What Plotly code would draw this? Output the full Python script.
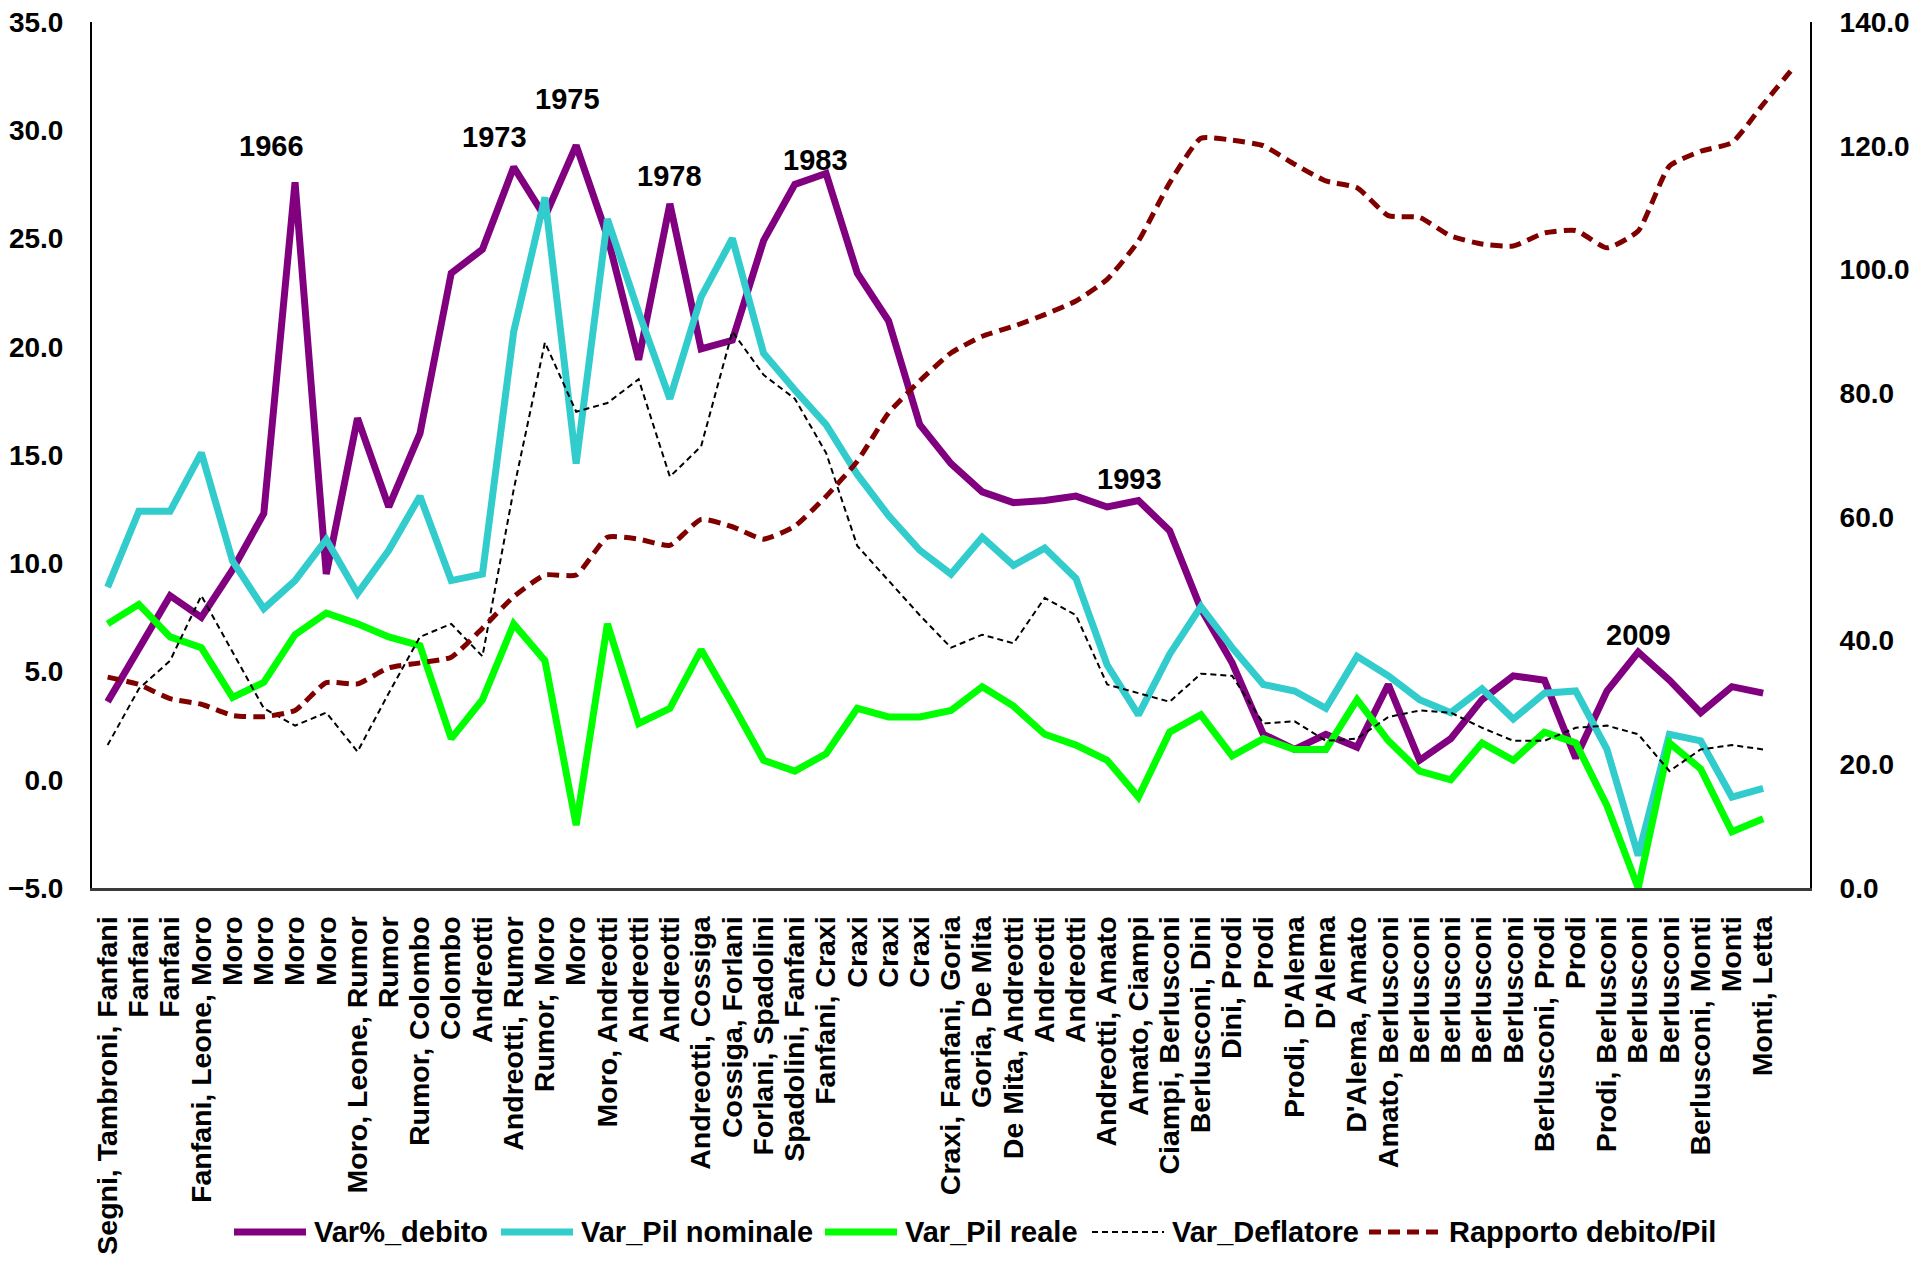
import plotly.graph_objects as go

# Governments in office for each year, 1960-2013 (the last slot, 2014, has no label)
governi = [
    "Segni, Tambroni, Fanfani", "Fanfani", "Fanfani", "Fanfani, Leone, Moro", "Moro", "Moro",
    "Moro", "Moro", "Moro, Leone, Rumor", "Rumor", "Rumor, Colombo", "Colombo", "Andreotti",
    "Andreotti, Rumor", "Rumor, Moro", "Moro", "Moro, Andreotti", "Andreotti", "Andreotti",
    "Andreotti, Cossiga", "Cossiga, Forlani", "Forlani, Spadolini", "Spadolini, Fanfani",
    "Fanfani, Craxi", "Craxi", "Craxi", "Craxi", "Craxi, Fanfani, Goria", "Goria, De Mita",
    "De Mita, Andreotti", "Andreotti", "Andreotti", "Andreotti, Amato", "Amato, Ciampi",
    "Ciampi, Berlusconi", "Berlusconi, Dini", "Dini, Prodi", "Prodi", "Prodi, D'Alema",
    "D'Alema", "D'Alema, Amato", "Amato, Berlusconi", "Berlusconi", "Berlusconi", "Berlusconi",
    "Berlusconi", "Berlusconi, Prodi", "Prodi", "Prodi, Berlusconi", "Berlusconi", "Berlusconi",
    "Berlusconi, Monti", "Monti", "Monti, Letta", "",
]

var_debito = [
    3.6, 6.1, 8.5, 7.5, 9.7, 12.3, 27.6, 9.5, 16.7, 12.6, 16.0, 23.4, 24.5, 28.3, 26.0, 29.3,
    25.1, 19.4, 26.6, 19.9, 20.3, 24.9, 27.5, 28.0, 23.4, 21.2, 16.4, 14.6, 13.3, 12.8, 12.9,
    13.1, 12.6, 12.9, 11.5, 7.9, 5.4, 2.1, 1.4, 2.1, 1.5, 4.4, 0.9, 1.9, 3.7, 4.8, 4.6, 1.0,
    4.1, 5.9, 4.6, 3.1, 4.3, 4.0,
]
var_pil_nominale = [
    8.9, 12.4, 12.4, 15.1, 10.1, 7.9, 9.2, 11.1, 8.6, 10.6, 13.1, 9.2, 9.5, 20.7, 26.9, 14.6,
    25.9, 21.6, 17.6, 22.3, 25.0, 19.7, 18.0, 16.4, 14.1, 12.2, 10.6, 9.5, 11.2, 9.9, 10.7,
    9.3, 5.3, 3.0, 5.8, 8.0, 6.1, 4.4, 4.1, 3.3, 5.7, 4.8, 3.7, 3.1, 4.2, 2.8, 4.0, 4.1,
    1.4, -3.5, 2.1, 1.8, -0.8, -0.4,
]
var_pil_reale = [
    7.2, 8.1, 6.6, 6.1, 3.8, 4.5, 6.7, 7.7, 7.2, 6.6, 6.2, 1.9, 3.7, 7.2, 5.5, -2.1,
    7.2, 2.6, 3.3, 6.0, 3.5, 0.9, 0.4, 1.2, 3.3, 2.9, 2.9, 3.2, 4.3, 3.4, 2.1,
    1.6, 0.9, -0.8, 2.2, 3.0, 1.1, 1.9, 1.4, 1.4, 3.7, 1.8, 0.4, 0.0, 1.7, 0.9, 2.2, 1.7,
    -1.2, -5.0, 1.7, 0.5, -2.4, -1.8,
]
var_deflatore = [
    1.6, 4.2, 5.5, 8.5, 5.9, 3.3, 2.5, 3.1, 1.3, 4.0, 6.6, 7.2, 5.7, 13.4, 20.2, 17.0,
    17.4, 18.5, 14.0, 15.4, 20.7, 18.7, 17.6, 15.1, 10.8, 9.2, 7.6, 6.1, 6.7, 6.3, 8.4,
    7.6, 4.4, 4.0, 3.6, 4.9, 4.8, 2.6, 2.7, 1.8, 1.9, 2.9, 3.2, 3.1, 2.4, 1.8, 1.8, 2.4,
    2.5, 2.1, 0.4, 1.4, 1.6, 1.4,
]
rapporto_debito_pil = [
    34.1, 32.9, 30.6, 29.7, 27.9, 27.7, 28.7, 33.2, 33.0, 35.6, 36.4, 37.3, 42.0, 47.1, 50.6,
    50.6, 56.7, 56.4, 55.4, 59.6, 58.4, 56.4, 58.5, 63.3, 69.0, 76.8, 82.0, 86.5, 89.2, 90.8,
    92.7, 94.9, 98.4, 104.6, 114.0, 121.2, 120.9, 120.0, 117.0, 114.3, 113.2, 108.7, 108.4,
    105.4, 104.1, 103.8, 105.9, 106.3, 103.5, 106.2, 116.7, 119.1, 120.5, 126.7, 132.8,
]

# Years highlighted above the debt-growth line
anni_evidenziati = ["1966", "1973", "1975", "1978", "1983", "1993", "2009"]
indici_evidenziati = [6, 13, 15, 18, 23, 33, 49]
# label offsets (px) relative to the point
spost_x = [-24, -19, -9, 0, -11, -9, 0]
spost_y = [36, 30, 46, 28, 14, 21, 17]

# Canvas and plot-area geometry (px)
W, H = 1920, 1261
ML, MR, MT, MB = 92, 110, 22, 373
PW, PH = W - ML - MR, H - MT - MB

x_pos = list(range(len(governi)))
FONT = "Liberation Sans, Arial, sans-serif"
BOLD = dict(family=FONT, size=29, color="black", weight="bold")
BOLD_TICK_Y = dict(family=FONT, size=28, color="black", weight="bold")
BOLD_TICK_X = dict(family=FONT, size=28.5, color="black", weight="bold")

serie = [
    dict(name="Var%_debito", y=var_debito, asse="y",
         line=dict(color="#800080", width=7)),
    dict(name="Var_Pil nominale", y=var_pil_nominale, asse="y",
         line=dict(color="#33CCCC", width=7)),
    dict(name="Var_Pil reale", y=var_pil_reale, asse="y",
         line=dict(color="#00FF00", width=7)),
    dict(name="Var_Deflatore", y=var_deflatore, asse="y",
         line=dict(color="#000000", width=2, dash="6px,4px")),
    dict(name="Rapporto debito/Pil", y=rapporto_debito_pil, asse="y2",
         line=dict(color="#800000", width=5, dash="12px,7px", shape="spline", smoothing=0.5)),
]

fig = go.Figure()
for s in serie:
    fig.add_trace(go.Scatter(x=x_pos[:len(s["y"])], y=s["y"], name=s["name"], yaxis=s["asse"],
                             mode="lines", line=s["line"], showlegend=False))

for anno, i, dx, dy in zip(anni_evidenziati, indici_evidenziati, spost_x, spost_y):
    fig.add_annotation(x=i, y=var_debito[i], text=anno, showarrow=False,
                       xshift=dx, yshift=dy, yanchor="middle", font=BOLD)

# Legend row under the category labels: sample line + label for each series
leg_y_px = 1232
leg_sample_x0 = [234, 501, 825, 1092, 1369]
leg_sample_len = 72
for s, x0 in zip(serie, leg_sample_x0):
    py = (H - MB - leg_y_px) / PH
    px0 = (x0 - ML) / PW
    px1 = (x0 + leg_sample_len - ML) / PW
    ln = s["line"]
    fig.add_shape(type="line", xref="paper", yref="paper", x0=px0, x1=px1, y0=py, y1=py,
                  line=dict(color=ln["color"], width=ln["width"], dash=ln.get("dash", "solid")))
    fig.add_annotation(xref="paper", yref="paper", x=(x0 + leg_sample_len + 6 - ML) / PW, y=py,
                       text=s["name"], showarrow=False, xanchor="left", yanchor="middle",
                       font=BOLD)

fig.update_layout(
    width=W, height=H,
    margin=dict(l=ML, r=MR, t=MT, b=MB, autoexpand=False),
    paper_bgcolor="white", plot_bgcolor="white",
    font=BOLD,
    showlegend=False,
    xaxis=dict(
        range=[-0.5, len(governi) - 0.5], automargin=False,
        tickmode="array", tickvals=x_pos, ticktext=governi, tickangle=-90,
        showgrid=False, zeroline=False,
        showline=True, linecolor="#3a3a3a", linewidth=3,
        ticks="outside", ticklen=14, tickcolor="rgba(0,0,0,0)",
        tickfont=BOLD_TICK_X,
    ),
    yaxis=dict(
        range=[-5, 35], dtick=5, tick0=-5, tickformat=".1f", automargin=False,
        showgrid=False, zeroline=False,
        showline=True, linecolor="black", linewidth=2,
        ticks="outside", ticklen=21, tickcolor="rgba(0,0,0,0)",
        tickfont=BOLD_TICK_Y,
    ),
    yaxis2=dict(
        range=[0, 140], dtick=20, tick0=0, tickformat=".1f", automargin=False,
        overlaying="y", side="right",
        showgrid=False, zeroline=False,
        showline=True, linecolor="black", linewidth=2,
        ticks="outside", ticklen=22, tickcolor="rgba(0,0,0,0)",
        tickfont=BOLD_TICK_Y,
    ),
)

fig.write_html("out.html")
